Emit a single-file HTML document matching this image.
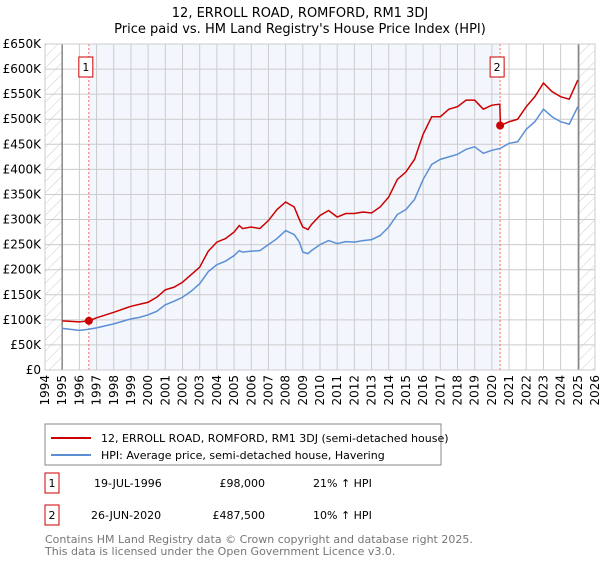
<!DOCTYPE html>
<html><head><meta charset="utf-8"><style>
body{margin:0;background:#fff;font-family:"DejaVu Sans","Liberation Sans",sans-serif}
svg text{font-family:"DejaVu Sans","Liberation Sans",sans-serif}
</style></head><body>
<svg width="600" height="560" viewBox="0 0 600 560" xmlns="http://www.w3.org/2000/svg">
<defs><pattern id="hatch" width="8" height="8" patternUnits="userSpaceOnUse" patternTransform="rotate(45)"><line x1="0" y1="0" x2="0" y2="8" stroke="#ccc" stroke-width="1"/></pattern></defs>
<text x="300" y="17" text-anchor="middle" font-size="13">12, ERROLL ROAD, ROMFORD, RM1 3DJ</text>
<text x="300" y="33" text-anchor="middle" font-size="13">Price paid vs. HM Land Registry's House Price Index (HPI)</text>
<g id="plot"></g>
<rect x="45" y="424" width="396" height="41" fill="#fff" stroke="#888"/>
<line x1="51" y1="438" x2="91" y2="438" stroke="#cc0000" stroke-width="2"/>
<text x="101" y="442" font-size="11">12, ERROLL ROAD, ROMFORD, RM1 3DJ (semi-detached house)</text>
<line x1="51" y1="455" x2="91" y2="455" stroke="#5b8fd4" stroke-width="2"/>
<text x="101" y="459" font-size="11">HPI: Average price, semi-detached house, Havering</text>
<g font-size="11">
<rect x="45" y="473" width="14" height="20" fill="#fff" stroke="#cc0000"/>
<text x="52" y="487" text-anchor="middle">1</text>
<text x="94" y="487">19-JUL-1996</text><text x="265" y="487" text-anchor="end">£98,000</text><text x="313" y="487">21% ↑ HPI</text>
<rect x="45" y="505" width="14" height="20" fill="#fff" stroke="#cc0000"/>
<text x="52" y="519" text-anchor="middle">2</text>
<text x="91" y="519">26-JUN-2020</text><text x="265" y="519" text-anchor="end">£487,500</text><text x="313" y="519">10% ↑ HPI</text>
</g>
<text x="45" y="543" font-size="11" fill="#777">Contains HM Land Registry data © Crown copyright and database right 2025.</text>
<text x="45" y="555" font-size="11" fill="#777">This data is licensed under the Open Government Licence v3.0.</text>
</svg>
<script>
const yTicks=[0,50,100,150,200,250,300,350,400,450,500,550,600,650];
const yTickLabels=["£0","£50K","£100K","£150K","£200K","£250K","£300K","£350K","£400K","£450K","£500K","£550K","£600K","£650K"];
const years=[1994,1995,1996,1997,1998,1999,2000,2001,2002,2003,2004,2005,2006,2007,2008,2009,2010,2011,2012,2013,2014,2015,2016,2017,2018,2019,2020,2021,2022,2023,2024,2025,2026];
const hpiT=[1995,1995.5,1996,1996.5,1997,1997.5,1998,1998.5,1999,1999.5,2000,2000.5,2001,2001.5,2002,2002.5,2003,2003.5,2004,2004.5,2005,2005.3,2005.5,2006,2006.5,2007,2007.5,2008,2008.5,2008.8,2009,2009.3,2009.5,2010,2010.5,2011,2011.5,2012,2012.5,2013,2013.5,2014,2014.5,2015,2015.5,2016,2016.5,2017,2017.5,2018,2018.5,2019,2019.5,2020,2020.5,2021,2021.5,2022,2022.5,2023,2023.5,2024,2024.5,2025];
const hpiV=[83,81,79,81,84,88,92,97,102,105,110,117,130,137,145,157,172,196,210,217,228,238,235,237,238,250,262,278,270,255,235,232,238,250,258,252,256,255,258,260,268,285,310,320,340,380,410,420,425,430,440,445,432,438,442,452,455,480,495,520,505,495,490,525];
const priceT=[1995,1996,1996.55,1997,1998,1999,2000,2000.5,2001,2001.5,2002,2002.5,2003,2003.5,2004,2004.5,2005,2005.3,2005.5,2006,2006.5,2007,2007.5,2008,2008.5,2008.8,2009,2009.3,2009.5,2010,2010.5,2011,2011.5,2012,2012.5,2013,2013.5,2014,2014.5,2015,2015.5,2016,2016.5,2017,2017.5,2018,2018.5,2019,2019.5,2020,2020.46,2020.5,2021,2021.5,2022,2022.5,2023,2023.5,2024,2024.5,2025];
const priceV=[98,96,98,104,115,127,135,145,160,165,175,190,205,237,255,262,275,288,282,285,282,298,320,335,325,300,285,280,290,308,318,305,312,312,315,313,325,345,380,395,420,470,505,505,520,525,538,538,520,528,530,487.5,495,500,525,545,572,555,545,540,578];
const saleT=[1996.55,2020.48];
const saleV=[98,487.5];
const saleLabels=["1","2"];

const X0=45,X1=595,Y0=370,Y1=44;
const xs=t=>X0+(t-1994)/(2026-1994)*(X1-X0);
const ys=v=>Y0-v/650*(Y0-Y1);
const NS="http://www.w3.org/2000/svg";
const g=document.getElementById('plot');
function mk(tag,attrs,parent){const e=document.createElementNS(NS,tag);for(const k in attrs)e.setAttribute(k,attrs[k]);(parent||g).appendChild(e);return e;}
let e;
e=mk('rect',{x:X0,y:Y1,width:X1-X0,height:Y0-Y1,fill:'#fff'});


e=mk('rect',{x:xs(saleT[0]),y:Y1,width:xs(saleT[1])-xs(saleT[0]),height:Y0-Y1,fill:'#f3f6fd'});


e=mk('rect',{x:X0,y:Y1,width:xs(1995)-X0,height:Y0-Y1,fill:'url(#hatch)'});


e=mk('rect',{x:xs(2025.05),y:Y1,width:X1-xs(2025.05),height:Y0-Y1,fill:'url(#hatch)'});


years.forEach(y=>{
 e=mk('line',{x1:xs(y),x2:xs(y),y1:Y1,y2:Y0,stroke:'#ccc','stroke-width':1});
 
 
 e=mk('text',{x:0,y:0,'font-size':12,'text-anchor':'end',transform:`translate(${xs(y)+4},${Y0+5}) rotate(-90)`});
 e.textContent=y;
 
 
});
yTicks.forEach((v,i)=>{
 e=mk('line',{x1:X0,x2:X1,y1:ys(v),y2:ys(v),stroke:'#ccc','stroke-width':1});
 
 
 e=mk('text',{x:X0-4,y:ys(v)+4,'font-size':12,'text-anchor':'end'});
 e.textContent=yTickLabels[i];
 
 
});
[1995,2025.05].forEach(t=>{
 e=mk('line',{x1:xs(t),x2:xs(t),y1:Y1,y2:Y0,stroke:'#888','stroke-width':1.5});
 
 
});
saleT.forEach((t,i)=>{
 e=mk('line',{x1:xs(t),x2:xs(t),y1:Y1,y2:Y0,stroke:'#f66','stroke-width':1,'stroke-dasharray':'2,2'});
 
 
});
e=mk('polyline',{points:hpiT.map((t,i)=>xs(t)+','+ys(hpiV[i])).join(' '),fill:'none',stroke:'#5b8fd4','stroke-width':1.5});


e=mk('polyline',{points:priceT.map((t,i)=>xs(t)+','+ys(priceV[i])).join(' '),fill:'none',stroke:'#cc0000','stroke-width':1.5});


saleT.forEach((t,i)=>{
 e=mk('circle',{cx:xs(t),cy:ys(saleV[i]),r:4,fill:'#cc0000'});
 
 
 e=mk('rect',{x:xs(t)-10,y:57,width:14,height:20,fill:'#fff',stroke:'#cc0000'});
 
 
 e=mk('text',{x:xs(t)-3,y:71,'font-size':11,'text-anchor':'middle'});
 e.textContent=saleLabels[i];
 
 
});
e=mk('rect',{x:X0,y:Y1,width:X1-X0,height:Y0-Y1,fill:'none',stroke:'#ccc'});


</script>
</body></html>
